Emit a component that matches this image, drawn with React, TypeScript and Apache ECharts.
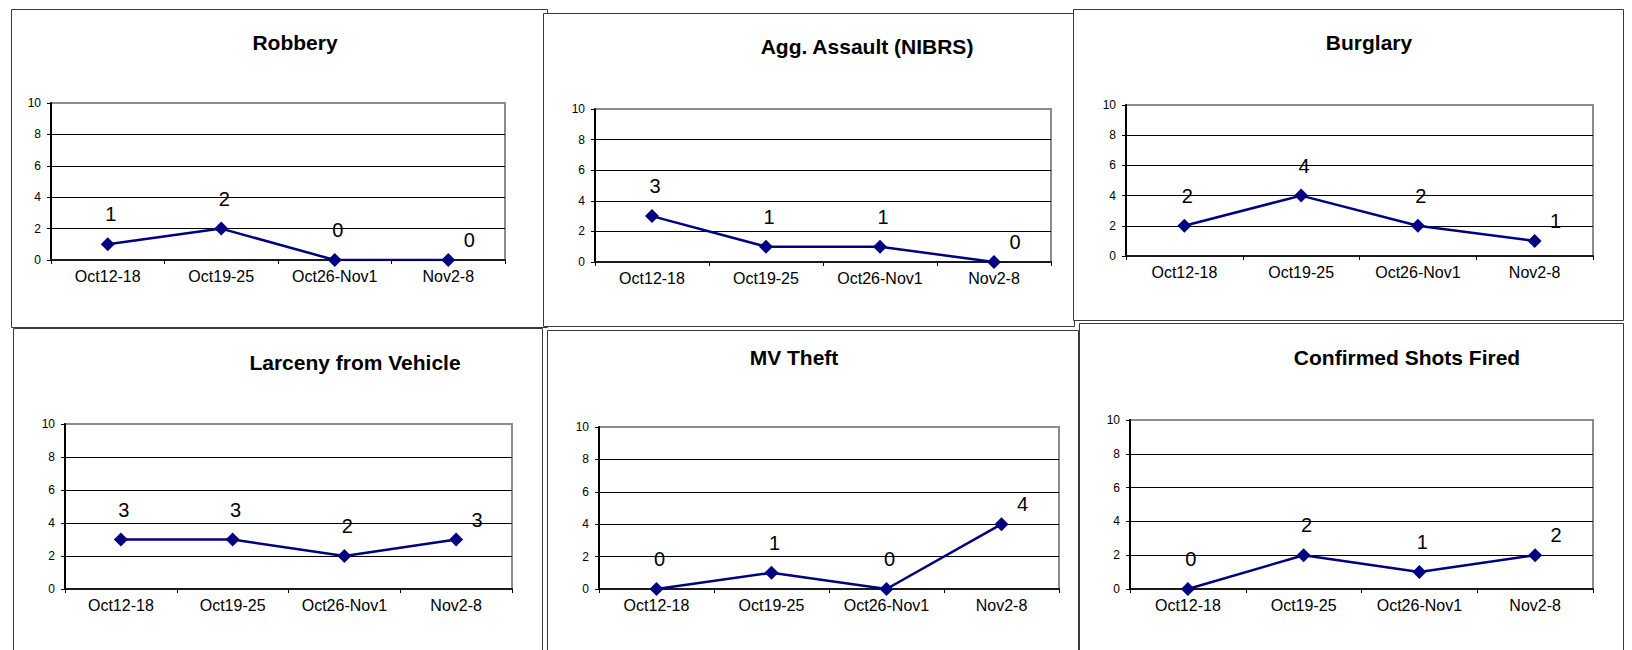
import React, { useEffect, useRef } from "react";
import * as echarts from "echarts";

const categories = ["Oct12-18", "Oct19-25", "Oct26-Nov1", "Nov2-8"];
const chartTitles = [
  "Robbery",
  "Agg. Assault (NIBRS)",
  "Burglary",
  "Larceny from Vehicle",
  "MV Theft",
  "Confirmed Shots Fired",
];
const robbery = [1, 2, 0, 0];
const aggAssault = [3, 1, 1, 0];
const burglary = [2, 4, 2, 1];
const larcenyFromVehicle = [3, 3, 2, 3];
const mvTheft = [0, 1, 0, 4];
const shotsFired = [0, 2, 1, 2];
const seriesList = [robbery, aggAssault, burglary, larcenyFromVehicle, mvTheft, shotsFired];
const yMin = 0;
const yMax = 10;
const yStep = 2;

// Layout (px): panel box [x, y, w, h], plot grid [left, top, width, height], title centre [x, y]
const layout = [
  { box: [11, 9, 536, 318], grid: [51, 103, 454, 157], title: [295, 42] },
  { box: [543, 13, 531, 313], grid: [595, 109, 456, 153], title: [867, 46] },
  { box: [1073, 9, 550, 311], grid: [1126, 105, 467, 151], title: [1369, 42] },
  { box: [13, 328, 529, 340], grid: [65, 424, 447, 165], title: [355, 362] },
  { box: [547, 330, 531, 340], grid: [599, 427, 460, 162], title: [794, 357] },
  { box: [1079, 323, 544, 345], grid: [1130, 420, 463, 169], title: [1407, 357] },
];

const FONT = "'Liberation Sans', Arial, sans-serif";
const NAVY = "#000080";

export default function App() {
  const ref = useRef<HTMLDivElement>(null);

  useEffect(() => {
    if (!ref.current) return;
    const chart = echarts.init(ref.current, null, { renderer: "svg" });

    const grids: any[] = [];
    const xAxes: any[] = [];
    const yAxes: any[] = [];
    const series: any[] = [];
    const graphics: any[] = [];

    layout.forEach((p, i) => {
      const [bx, by, bw, bh] = p.box;
      graphics.push({
        type: "rect",
        z: -20 + i,
        shape: { x: bx + 0.5, y: by + 0.5, width: bw, height: bh },
        style: { fill: "#fff", stroke: "#3a3a3a", lineWidth: 1 },
      });
    });
    layout.forEach((p, i) => {
      graphics.push({
        type: "text",
        z: 10,
        x: p.title[0],
        y: p.title[1],
        style: {
          text: chartTitles[i],
          align: "center",
          verticalAlign: "middle",
          font: `bold 21px ${FONT}`,
          fill: "#000",
        },
      });
    });

    layout.forEach((p, i) => {
      const [gl, gt, gw, gh] = p.grid;
      grids.push({
        left: gl,
        top: gt,
        width: gw,
        height: gh,
        show: true,
        borderColor: "#8c8c8c",
        borderWidth: 2,
        backgroundColor: "transparent",
        containLabel: false,
      });
      xAxes.push({
        type: "category",
        gridIndex: i,
        data: categories,
        boundaryGap: true,
        axisLine: { show: true, lineStyle: { color: "#1a1a1a", width: 2 } },
        axisTick: { show: true, length: 4, inside: false, lineStyle: { color: "#000", width: 1 } },
        axisLabel: { interval: 0, fontSize: 16, margin: 8, color: "#000", fontFamily: FONT },
        splitLine: { show: false },
      });
      yAxes.push({
        type: "value",
        gridIndex: i,
        min: yMin,
        max: yMax,
        interval: yStep,
        axisLine: { show: true, lineStyle: { color: "#000", width: 2 } },
        axisTick: { show: true, length: 4, inside: false, lineStyle: { color: "#000", width: 1 } },
        axisLabel: { fontSize: 12, margin: 10, color: "#000", fontFamily: FONT },
        splitLine: {
          show: true,
          showMinLine: false,
          showMaxLine: false,
          lineStyle: { color: "#000", width: 1 },
        },
      });
      const vals = seriesList[i];
      series.push({
        type: "line",
        name: chartTitles[i],
        xAxisIndex: i,
        yAxisIndex: i,
        symbol: "diamond",
        symbolSize: 14,
        z: 5,
        lineStyle: { color: NAVY, width: 2.5 },
        itemStyle: { color: NAVY },
        label: {
          show: true,
          position: "inside",
          color: "#000",
          fontSize: 20,
          fontFamily: FONT,
          textBorderWidth: 0,
        },
        data: vals.map((v, k) => ({
          value: v,
          label: { offset: k === vals.length - 1 ? [21, -20] : [3, -30] },
        })),
      });
    });

    chart.setOption({
      animation: false,
      backgroundColor: "#fff",
      grid: grids,
      xAxis: xAxes,
      yAxis: yAxes,
      series,
      graphic: { elements: graphics },
    });

    return () => chart.dispose();
  }, []);

  return (
    <div
      ref={ref}
      style={{ position: "fixed", left: 0, top: 0, width: 1632, height: 650, background: "#fff" }}
    />
  );
}
